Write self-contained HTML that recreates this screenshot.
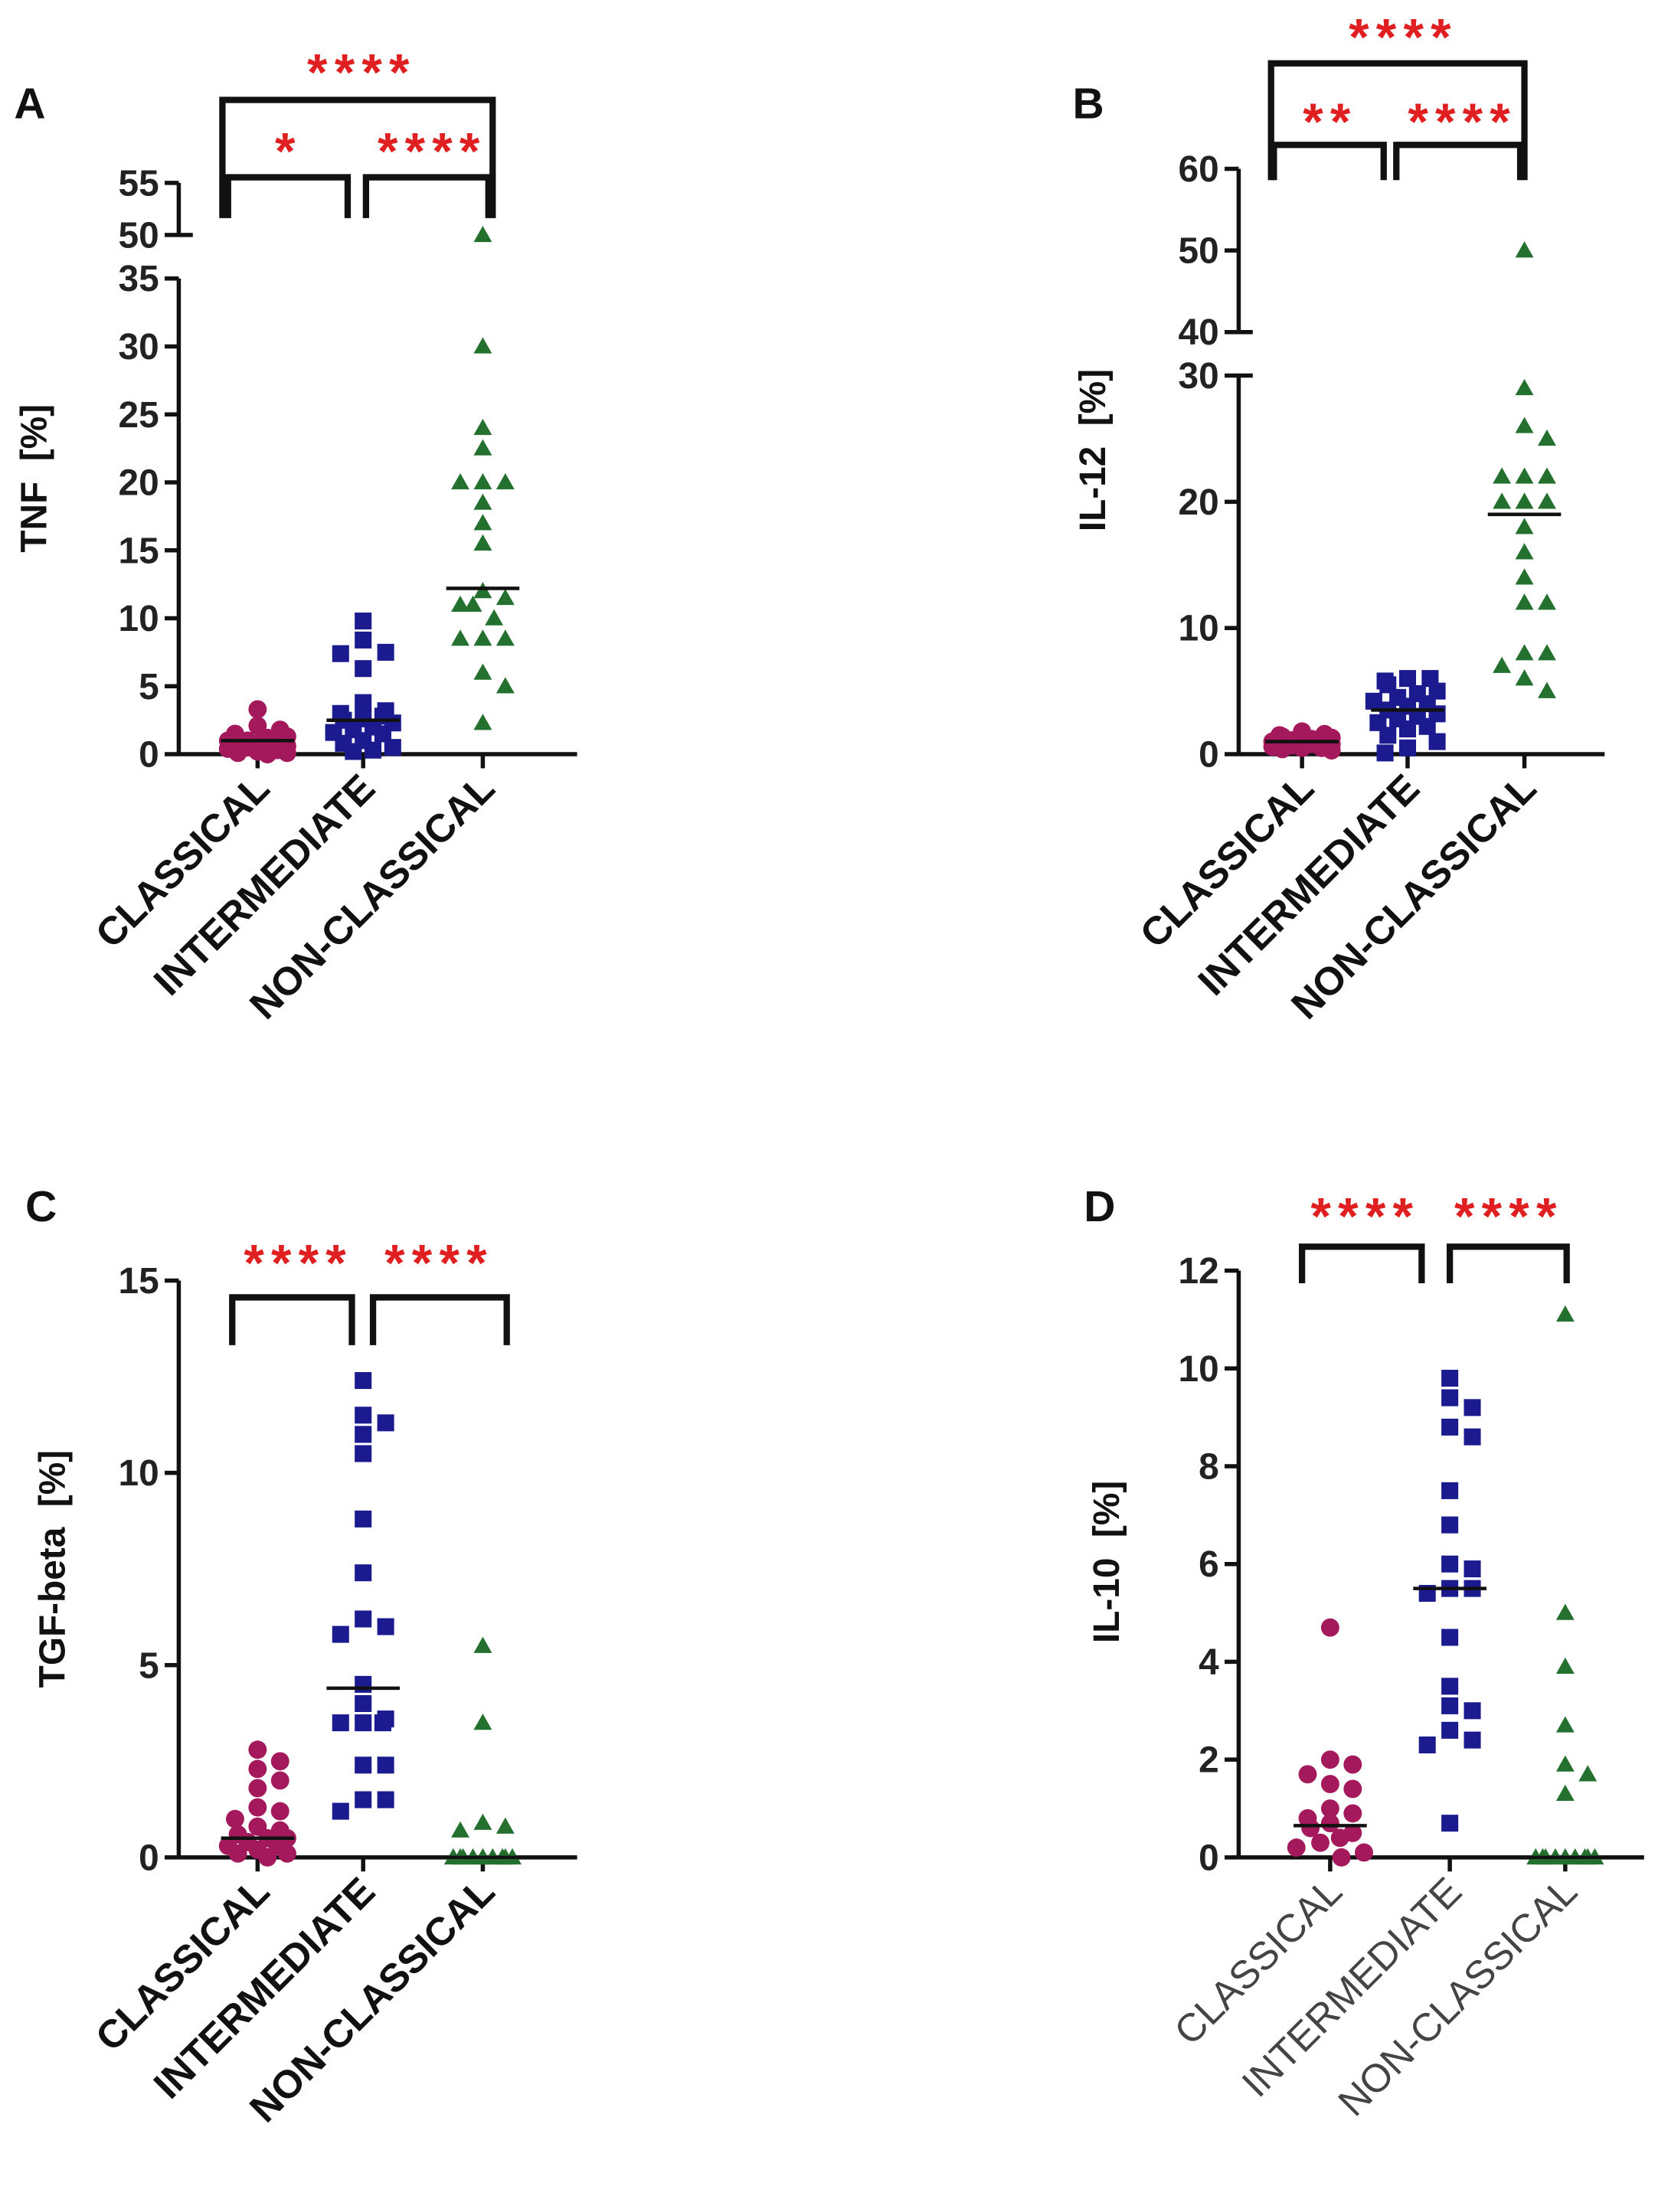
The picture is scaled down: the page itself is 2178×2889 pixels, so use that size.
<!DOCTYPE html>
<html><head><meta charset="utf-8">
<style>
html,body{margin:0;padding:0;background:#fff;}
svg{display:block;}
text{font-family:"Liberation Sans",Arial,sans-serif;}
</style></head>
<body>
<svg id="fig" width="2178" height="2889" viewBox="0 0 1185 1572" preserveAspectRatio="none" xmlns="http://www.w3.org/2000/svg"></svg>
<script>
const categories = ["CLASSICAL","INTERMEDIATE","NON-CLASSICAL"];
// Panel A: TNF
const tnfClassical = [3.3,2.1,1.8,1.5,1.3,1.2,1.0,1.0,0.9,0.8,0.7,0.6,0.5,0.5,0.4,0.3,0.2,0.1,0.1,0.0];
const tnfIntermediate = [9.8,8.4,7.5,7.4,6.3,3.8,3.2,3.0,2.8,2.6,2.5,2.3,2.0,1.8,1.6,1.5,1.0,0.8,0.5,0.3,0.2];
const tnfNonClassical = [50,30,24,22.5,20,20,20,18.5,17,15.5,12,11.5,11,11,10,8.5,8.5,8.5,6,5,2.3];
const tnfMedians = [1.0,2.5,12.2];
// Panel B: IL-12
const il12Classical = [1.8,1.6,1.5,1.4,1.3,1.2,1.1,1.0,1.0,0.9,0.9,0.8,0.8,0.7,0.6,0.5,0.5,0.4,0.3];
const il12Intermediate = [6,6,5.8,5.5,5,4.8,4.5,4.2,4,3.8,3.5,3.2,3,2.8,2.5,2.2,2,1.5,1,0.5,0.1];
const il12NonClassical = [50,29,26,25,22,22,22,20,20,20,18,16,14,12,12,8,8,7,6,5];
const il12Medians = [1.0,3.5,19];
// Panel C: TGF-beta
const tgfClassical = [2.8,2.5,2.3,2.0,1.8,1.3,1.2,1.0,0.8,0.7,0.6,0.5,0.5,0.4,0.3,0.3,0.2,0.1,0.1,0];
const tgfIntermediate = [12.4,11.5,11.3,11.0,10.5,8.8,7.4,6.2,6.0,5.8,4.5,4.0,3.6,3.5,3.5,3.5,2.4,2.4,1.5,1.5,1.2];
const tgfNonClassical = [5.5,3.5,0.9,0.8,0.7,0,0,0,0,0,0,0,0,0,0,0];
const tgfMedians = [0.5,4.4,0];
// Panel D: IL-10
const il10Classical = [4.7,2.0,1.9,1.7,1.5,1.4,1.0,0.9,0.8,0.7,0.6,0.5,0.4,0.3,0.2,0.1,0];
const il10Intermediate = [9.8,9.4,9.2,8.8,8.6,7.5,6.8,6.0,5.9,5.5,5.5,5.4,4.5,3.5,3.1,3.0,2.6,2.4,2.3,0.7];
const il10NonClassical = [11.1,5.0,3.9,2.7,1.9,1.7,1.3,0,0,0,0,0,0,0,0,0];
const il10Medians = [0.65,5.5,0];
const tnfTicksLow = [0,5,10,15,20,25,30,35];
const tnfTicksHigh = [50,55];
const il12TicksLow = [0,10,20,30];
const il12TicksHigh = [40,50,60];
const tgfTicks = [0,5,10,15];
const il10Ticks = [0,2,4,6,8,10,12];

const NS="http://www.w3.org/2000/svg";
const svg=document.getElementById('fig');
const COLORS=["#a3195b","#1b1b8f","#23702f"];
function mk(tag,attrs,parent){const e=document.createElementNS(NS,tag);for(const k in attrs)e.setAttribute(k,attrs[k]);(parent||svg).appendChild(e);return e;}
function line(x1,y1,x2,y2,w,p){return mk('line',{x1,y1,x2,y2,stroke:'#111','stroke-width':w||3},p);}

function panel(cfg){
  const g=mk('g',{});
  
  
  const L=mk('text',{x:cfg.letter[0],y:cfg.letter[1],'font-size':31,'font-weight':'bold',fill:'#111'},g);
  L.textContent=cfg.letterText;
  
  
  const ax=cfg.axX, y=cfg.y;
  cfg.segs.forEach(s=>{line(ax,y(s[0]),ax,y(s[1]),3,g);});
  cfg.ticks.forEach(t=>{
    const ty=y(t);
    const ext=cfg.extTicks.indexOf(t)>=0;
    line(ax-10,ty,ax+(ext?10:0),ty,3,g);
    const tx=mk('text',{x:ax-14,y:ty+9,'font-size':26,'font-weight':'bold','text-anchor':'end',fill:'#222'},g);
    tx.textContent=t;
    
    
  });
  const y0=y(0);
  line(ax,y0,cfg.axEnd,y0,3,g);
  const yl=mk('text',{x:0,y:0,'font-size':26,'font-weight':'bold','text-anchor':'middle',fill:'#111',transform:`translate(${cfg.ylab[0]},${cfg.ylab[1]}) rotate(-90)`},g);
  yl.textContent=cfg.ylabText;
  yl.setAttribute('xml:space','preserve');
  yl.style.whiteSpace='pre';
  
  
  cfg.series.forEach((vals,ci)=>{
    const cx=cfg.cx[ci];
    line(cx,y0,cx,y0+10,3,g);
    const lab=mk('text',{x:0,y:0,'font-size':28,'font-weight':cfg.labBold?'bold':'normal','text-anchor':'end',fill:cfg.labBold?'#111':'#444',transform:`translate(${cx+10},${y0+26}) rotate(-45)`},g);
    lab.textContent=categories[ci];
    
    
    const placed=[];const d=11;const maxW=26;
    vals.forEach((v,i)=>{
      const py=y(v);let off=null;
      for(let k=0;k<12;k++){
        const o=(k%2?1:-1)*Math.ceil(k/2)*8;
        if(Math.abs(o)>maxW) continue;
        if(!placed.some(p=>Math.abs(p[0]-o)<d&&Math.abs(p[1]-py)<d)){off=o;break;}
      }
      if(off===null) off=((i*5)%7-3)*7;
      placed.push([off,py]);
      const px=cx+off;let m;
      if(ci===0) m=mk('circle',{cx:px,cy:py,r:6.5,fill:COLORS[0]},g);
      else if(ci===1) m=mk('rect',{x:px-6,y:py-6,width:12,height:12,fill:COLORS[1]},g);
      else m=mk('polygon',{points:`${px},${py-6.5} ${px+6.5},${py+5} ${px-6.5},${py+5}`,fill:COLORS[2]},g);
      
      
    });
    const my=y(cfg.medians[ci]);
    const ml=line(cx-26,my,cx+26,my,2.5,g);
    
    
  });
  cfg.brackets.forEach(b=>{
    const p=mk('path',{d:`M${b[0]},${b[3]} V${b[2]} H${b[1]} V${b[3]}`,fill:'none',stroke:'#111','stroke-width':4.5},g);
    
    
  });
  cfg.stars.forEach(s=>{
    const t=mk('text',{x:s[0],y:s[1],'font-size':37,'font-weight':'bold','text-anchor':'middle',fill:'#e02020','letter-spacing':'5'},g);
    t.textContent=s[2];
    
    
  });
}

panel({name:'panel-a-tnf',letterText:'A',letter:[10,84],axX:127,axEnd:410,
  y:v=>v<=35?536-v*9.66:167-(v-50)*7.4,
  segs:[[0,35],[50,55]],ticks:tnfTicksLow.concat(tnfTicksHigh),extTicks:[50],
  ylab:[33,340],ylabText:'TNF  [%]',labBold:true,cx:[183,258,343],
  series:[tnfClassical,tnfIntermediate,tnfNonClassical],medians:tnfMedians,
  brackets:[[158,350,71,155],[162,247,126,155],[260,347,126,155]],
  stars:[[257,64,'****'],[205,120,'*'],[307,120,'****']]});
panel({name:'panel-b-il12',letterText:'B',letter:[762,84],axX:880,axEnd:1140,
  y:v=>v<=30?536-v*8.97:236-(v-40)*5.8,
  segs:[[0,30],[40,60]],ticks:il12TicksLow.concat(il12TicksHigh),extTicks:[40,30],
  ylab:[785,320],ylabText:'IL-12  [%]',labBold:true,cx:[925,1000,1083],
  series:[il12Classical,il12Intermediate,il12NonClassical],medians:il12Medians,
  brackets:[[903,1083,45,128],[905,983,103,128],[992,1080,103,128]],
  stars:[[997,39,'****'],[945,99,'**'],[1039,99,'****']]});
panel({name:'panel-c-tgf',letterText:'C',letter:[18,868],axX:127,axEnd:410,
  y:v=>1320-v*27.33,segs:[[0,15]],ticks:tgfTicks,extTicks:[],
  ylab:[46,1115],ylabText:'TGF-beta  [%]',labBold:true,cx:[183,258,343],
  series:[tgfClassical,tgfIntermediate,tgfNonClassical],medians:tgfMedians,
  brackets:[[165,250,922,956],[265,360,922,956]],
  stars:[[212,910,'****'],[312,910,'****']]});
panel({name:'panel-d-il10',letterText:'D',letter:[770,868],axX:880,axEnd:1168,
  y:v=>1320-v*34.75,segs:[[0,12]],ticks:il10Ticks,extTicks:[],
  ylab:[795,1110],ylabText:'IL-10  [%]',labBold:false,cx:[945,1030,1112],
  series:[il10Classical,il10Intermediate,il10NonClassical],medians:il10Medians,
  brackets:[[925,1010,886,912],[1030,1113,886,912]],
  stars:[[970,877,'****'],[1072,877,'****']]});
</script>
</body></html>
